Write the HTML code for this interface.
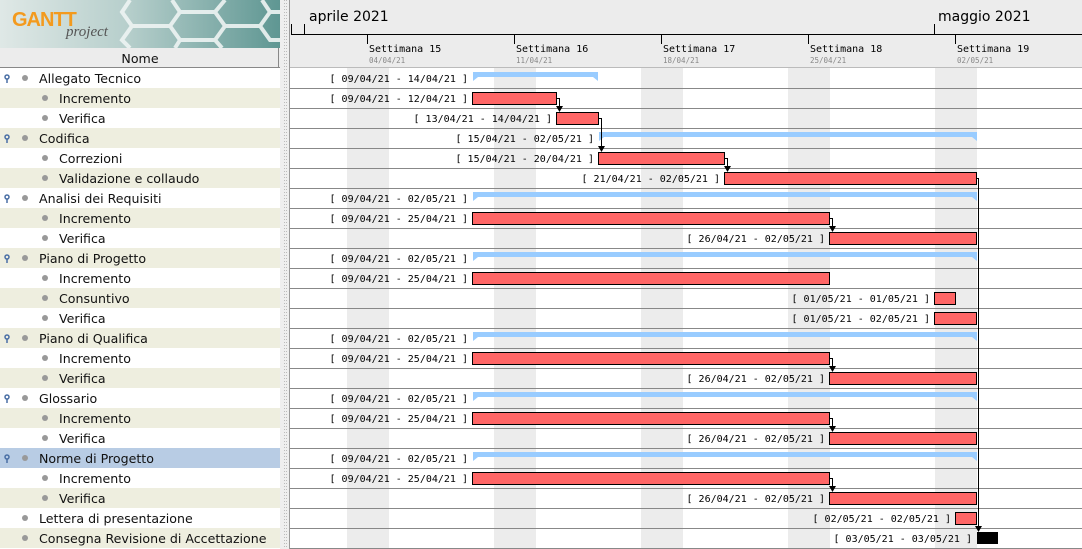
<!DOCTYPE html>
<html><head><meta charset="utf-8"><style>
html,body{margin:0;padding:0;width:1082px;height:549px;overflow:hidden;background:#fff}
svg{display:block}
.l{font-family:"DejaVu Sans","Liberation Sans",sans-serif;font-size:12.6px;fill:#111}
.d{font-family:"DejaVu Sans Mono","Liberation Mono",monospace;font-size:10px;fill:#000}
.w{font-family:"DejaVu Sans Mono","Liberation Mono",monospace;font-size:10px;fill:#000}
.s{font-family:"DejaVu Sans Mono","Liberation Mono",monospace;font-size:7.5px;fill:#888}
</style></head><body>
<svg width="1082" height="549" xmlns="http://www.w3.org/2000/svg">
<defs>
<linearGradient id="lg" x1="0" x2="1" y1="0" y2="0"><stop offset="0" stop-color="#dfe8e6"/><stop offset="0.45" stop-color="#b7cfcc"/><stop offset="1" stop-color="#5e9692"/></linearGradient>
</defs>
<rect x="0" y="0" width="281" height="48" fill="url(#lg)"/>
<g fill="none" stroke="#eef4f3" stroke-width="4" opacity="0.9">
<path d="M130 0 L122 12 L132 26 L170 26 L180 12 L172 0"/>
<path d="M180 12 L215 12 M132 26 L122 40 L130 48"/>
<path d="M170 26 L180 40 L215 40 L225 26 L215 12 L225 0"/>
<path d="M225 26 L260 26 L270 12 L262 0 M270 12 L281 12 M260 26 L270 40 L281 40 M180 40 L175 48 M215 40 L222 48"/>
</g>
<text x="12" y="26" font-family="Liberation Sans,sans-serif" font-size="20" font-weight="bold" fill="#f39a1e" letter-spacing="-1">GANTT</text>
<text x="66" y="36" font-family="Liberation Serif,serif" font-size="15" font-style="italic" fill="#555">project</text>
<rect x="0" y="48" width="280" height="20" fill="#ececec"/>
<line x1="0" y1="67.5" x2="280" y2="67.5" stroke="#888"/>
<line x1="278.5" y1="48" x2="278.5" y2="68" stroke="#888"/>
<text x="140" y="63" text-anchor="middle" class="l">Nome</text>
<rect x="280" y="0" width="10" height="549" fill="#eeeeee"/>
<line x1="284.5" y1="0" x2="284.5" y2="549" stroke="#bbb" stroke-dasharray="1,2"/>
<line x1="286.5" y1="0" x2="286.5" y2="549" stroke="#bbb" stroke-dasharray="1,2"/>
<line x1="289.5" y1="0" x2="289.5" y2="549" stroke="#999"/>
<rect x="290" y="0" width="792" height="67" fill="#ececec"/>
<text x="309" y="21" font-family="DejaVu Sans,sans-serif" font-size="14" fill="#000">aprile 2021</text>
<text x="938" y="21" font-family="DejaVu Sans,sans-serif" font-size="14" fill="#000">maggio 2021</text>
<g stroke="#000">
<line x1="291" y1="34.5" x2="1082" y2="34.5"/>
<line x1="291.5" y1="24" x2="291.5" y2="35"/>
<line x1="304.5" y1="24" x2="304.5" y2="35"/>
<line x1="934.5" y1="24" x2="934.5" y2="35"/>
<line x1="367.5" y1="35" x2="367.5" y2="44"/>
<line x1="514.5" y1="35" x2="514.5" y2="44"/>
<line x1="661.5" y1="35" x2="661.5" y2="44"/>
<line x1="808.5" y1="35" x2="808.5" y2="44"/>
<line x1="955.5" y1="35" x2="955.5" y2="44"/>
</g>
<text x="369" y="52" class="w">Settimana 15</text><text x="516" y="52" class="w">Settimana 16</text><text x="663" y="52" class="w">Settimana 17</text><text x="810" y="52" class="w">Settimana 18</text><text x="957" y="52" class="w">Settimana 19</text>
<text x="369" y="63" class="s">04/04/21</text><text x="516" y="63" class="s">11/04/21</text><text x="663" y="63" class="s">18/04/21</text><text x="810" y="63" class="s">25/04/21</text><text x="957" y="63" class="s">02/05/21</text>
<line x1="290" y1="67.5" x2="1082" y2="67.5" stroke="#bbb"/>
<rect x="290" y="68" width="792" height="481" fill="#fff"/>
<g fill="#ececec">
<rect x="347" y="68" width="42" height="481"/><rect x="494" y="68" width="42" height="481"/><rect x="641" y="68" width="42" height="481"/><rect x="788" y="68" width="42" height="481"/><rect x="935" y="68" width="42" height="481"/>
</g>
<g stroke="#888">
<line x1="290" y1="88.5" x2="1082" y2="88.5"/><line x1="290" y1="108.5" x2="1082" y2="108.5"/><line x1="290" y1="128.5" x2="1082" y2="128.5"/><line x1="290" y1="148.5" x2="1082" y2="148.5"/><line x1="290" y1="168.5" x2="1082" y2="168.5"/><line x1="290" y1="188.5" x2="1082" y2="188.5"/><line x1="290" y1="208.5" x2="1082" y2="208.5"/><line x1="290" y1="228.5" x2="1082" y2="228.5"/><line x1="290" y1="248.5" x2="1082" y2="248.5"/><line x1="290" y1="268.5" x2="1082" y2="268.5"/><line x1="290" y1="288.5" x2="1082" y2="288.5"/><line x1="290" y1="308.5" x2="1082" y2="308.5"/><line x1="290" y1="328.5" x2="1082" y2="328.5"/><line x1="290" y1="348.5" x2="1082" y2="348.5"/><line x1="290" y1="368.5" x2="1082" y2="368.5"/><line x1="290" y1="388.5" x2="1082" y2="388.5"/><line x1="290" y1="408.5" x2="1082" y2="408.5"/><line x1="290" y1="428.5" x2="1082" y2="428.5"/><line x1="290" y1="448.5" x2="1082" y2="448.5"/><line x1="290" y1="468.5" x2="1082" y2="468.5"/><line x1="290" y1="488.5" x2="1082" y2="488.5"/><line x1="290" y1="508.5" x2="1082" y2="508.5"/><line x1="290" y1="528.5" x2="1082" y2="528.5"/><line x1="290" y1="548.5" x2="1082" y2="548.5"/>
</g>
<g fill="#eeeedf">
<rect x="0" y="88" width="280" height="20"/><rect x="0" y="128" width="280" height="20"/><rect x="0" y="168" width="280" height="20"/><rect x="0" y="208" width="280" height="20"/><rect x="0" y="248" width="280" height="20"/><rect x="0" y="288" width="280" height="20"/><rect x="0" y="328" width="280" height="20"/><rect x="0" y="368" width="280" height="20"/><rect x="0" y="408" width="280" height="20"/><rect x="0" y="488" width="280" height="20"/><rect x="0" y="528" width="280" height="20"/>
</g>
<rect x="0" y="448" width="280" height="20" fill="#b8cce4"/>
<g fill="#999">
<circle cx="25" cy="78" r="3"/><circle cx="45" cy="98" r="3"/><circle cx="45" cy="118" r="3"/><circle cx="25" cy="138" r="3"/><circle cx="45" cy="158" r="3"/><circle cx="45" cy="178" r="3"/><circle cx="25" cy="198" r="3"/><circle cx="45" cy="218" r="3"/><circle cx="45" cy="238" r="3"/><circle cx="25" cy="258" r="3"/><circle cx="45" cy="278" r="3"/><circle cx="45" cy="298" r="3"/><circle cx="45" cy="318" r="3"/><circle cx="25" cy="338" r="3"/><circle cx="45" cy="358" r="3"/><circle cx="45" cy="378" r="3"/><circle cx="25" cy="398" r="3"/><circle cx="45" cy="418" r="3"/><circle cx="45" cy="438" r="3"/><circle cx="25" cy="458" r="3"/><circle cx="45" cy="478" r="3"/><circle cx="45" cy="498" r="3"/><circle cx="25" cy="518" r="3"/><circle cx="25" cy="538" r="3"/>
</g>
<g stroke="#4a6fa5" stroke-width="1.5" fill="none">
<circle cx="7" cy="77" r="2"/><line x1="7" y1="79" x2="7" y2="83"/>
<circle cx="7" cy="137" r="2"/><line x1="7" y1="139" x2="7" y2="143"/>
<circle cx="7" cy="197" r="2"/><line x1="7" y1="199" x2="7" y2="203"/>
<circle cx="7" cy="257" r="2"/><line x1="7" y1="259" x2="7" y2="263"/>
<circle cx="7" cy="337" r="2"/><line x1="7" y1="339" x2="7" y2="343"/>
<circle cx="7" cy="397" r="2"/><line x1="7" y1="399" x2="7" y2="403"/>
<circle cx="7" cy="457" r="2"/><line x1="7" y1="459" x2="7" y2="463"/>
</g>
<g>
<text x="39" y="83" class="l">Allegato Tecnico</text>
<text x="59" y="103" class="l">Incremento</text>
<text x="59" y="123" class="l">Verifica</text>
<text x="39" y="143" class="l">Codifica</text>
<text x="59" y="163" class="l">Correzioni</text>
<text x="59" y="183" class="l">Validazione e collaudo</text>
<text x="39" y="203" class="l">Analisi dei Requisiti</text>
<text x="59" y="223" class="l">Incremento</text>
<text x="59" y="243" class="l">Verifica</text>
<text x="39" y="263" class="l">Piano di Progetto</text>
<text x="59" y="283" class="l">Incremento</text>
<text x="59" y="303" class="l">Consuntivo</text>
<text x="59" y="323" class="l">Verifica</text>
<text x="39" y="343" class="l">Piano di Qualifica</text>
<text x="59" y="363" class="l">Incremento</text>
<text x="59" y="383" class="l">Verifica</text>
<text x="39" y="403" class="l">Glossario</text>
<text x="59" y="423" class="l">Incremento</text>
<text x="59" y="443" class="l">Verifica</text>
<text x="39" y="463" class="l">Norme di Progetto</text>
<text x="59" y="483" class="l">Incremento</text>
<text x="59" y="503" class="l">Verifica</text>
<text x="39" y="523" class="l">Lettera di presentazione</text>
<text x="39" y="543" class="l">Consegna Revisione di Accettazione</text>
</g>
<g fill="#99ccff">
<path d="M473 72 H598 V81 L593 77 H478 L473 81 Z"/>
<path d="M599 132 H977 V141 L972 137 H604 L599 141 Z"/>
<path d="M473 192 H977 V201 L972 197 H478 L473 201 Z"/>
<path d="M473 252 H977 V261 L972 257 H478 L473 261 Z"/>
<path d="M473 332 H977 V341 L972 337 H478 L473 341 Z"/>
<path d="M473 392 H977 V401 L972 397 H478 L473 401 Z"/>
<path d="M473 452 H977 V461 L972 457 H478 L473 461 Z"/>
</g>
<g fill="#ff6666" stroke="#000" stroke-width="1">
<rect x="472.5" y="92.5" width="84" height="12"/>
<rect x="556.5" y="112.5" width="42" height="12"/>
<rect x="598.5" y="152.5" width="126" height="12"/>
<rect x="724.5" y="172.5" width="252" height="12"/>
<rect x="472.5" y="212.5" width="357" height="12"/>
<rect x="829.5" y="232.5" width="147" height="12"/>
<rect x="472.5" y="272.5" width="357" height="12"/>
<rect x="934.5" y="292.5" width="21" height="12"/>
<rect x="934.5" y="312.5" width="42" height="12"/>
<rect x="472.5" y="352.5" width="357" height="12"/>
<rect x="829.5" y="372.5" width="147" height="12"/>
<rect x="472.5" y="412.5" width="357" height="12"/>
<rect x="829.5" y="432.5" width="147" height="12"/>
<rect x="472.5" y="472.5" width="357" height="12"/>
<rect x="829.5" y="492.5" width="147" height="12"/>
<rect x="955.5" y="512.5" width="21" height="12"/>
</g>
<rect x="977" y="532" width="21" height="12" fill="#000"/>
<g stroke="#000" fill="none">
<path d="M557 98.5 H559.5 V110"/>
<path d="M599 118.5 H601.5 V150"/>
<path d="M725 158.5 H727.5 V170"/>
<path d="M830 218.5 H832.5 V230"/>
<path d="M830 358.5 H832.5 V370"/>
<path d="M830 418.5 H832.5 V430"/>
<path d="M830 478.5 H832.5 V490"/>
<path d="M977 178.5 H978.5 V530"/>
</g>
<g fill="#000">
<path d="M556 106 H563 L559.5 112 Z"/>
<path d="M598 146 H605 L601.5 152 Z"/>
<path d="M724 166 H731 L727.5 172 Z"/>
<path d="M829 226 H836 L832.5 232 Z"/>
<path d="M829 366 H836 L832.5 372 Z"/>
<path d="M829 426 H836 L832.5 432 Z"/>
<path d="M829 486 H836 L832.5 492 Z"/>
<path d="M975 526 H982 L978.5 532 Z"/>
</g>
<g class="d" text-anchor="end">
<text x="468" y="82">[ 09/04/21 - 14/04/21 ]</text>
<text x="468" y="102">[ 09/04/21 - 12/04/21 ]</text>
<text x="552" y="122">[ 13/04/21 - 14/04/21 ]</text>
<text x="594" y="142">[ 15/04/21 - 02/05/21 ]</text>
<text x="594" y="162">[ 15/04/21 - 20/04/21 ]</text>
<text x="720" y="182">[ 21/04/21 - 02/05/21 ]</text>
<text x="468" y="202">[ 09/04/21 - 02/05/21 ]</text>
<text x="468" y="222">[ 09/04/21 - 25/04/21 ]</text>
<text x="825" y="242">[ 26/04/21 - 02/05/21 ]</text>
<text x="468" y="262">[ 09/04/21 - 02/05/21 ]</text>
<text x="468" y="282">[ 09/04/21 - 25/04/21 ]</text>
<text x="930" y="302">[ 01/05/21 - 01/05/21 ]</text>
<text x="930" y="322">[ 01/05/21 - 02/05/21 ]</text>
<text x="468" y="342">[ 09/04/21 - 02/05/21 ]</text>
<text x="468" y="362">[ 09/04/21 - 25/04/21 ]</text>
<text x="825" y="382">[ 26/04/21 - 02/05/21 ]</text>
<text x="468" y="402">[ 09/04/21 - 02/05/21 ]</text>
<text x="468" y="422">[ 09/04/21 - 25/04/21 ]</text>
<text x="825" y="442">[ 26/04/21 - 02/05/21 ]</text>
<text x="468" y="462">[ 09/04/21 - 02/05/21 ]</text>
<text x="468" y="482">[ 09/04/21 - 25/04/21 ]</text>
<text x="825" y="502">[ 26/04/21 - 02/05/21 ]</text>
<text x="951" y="522">[ 02/05/21 - 02/05/21 ]</text>
<text x="972" y="542">[ 03/05/21 - 03/05/21 ]</text>
</g>
</svg>
</body></html>
